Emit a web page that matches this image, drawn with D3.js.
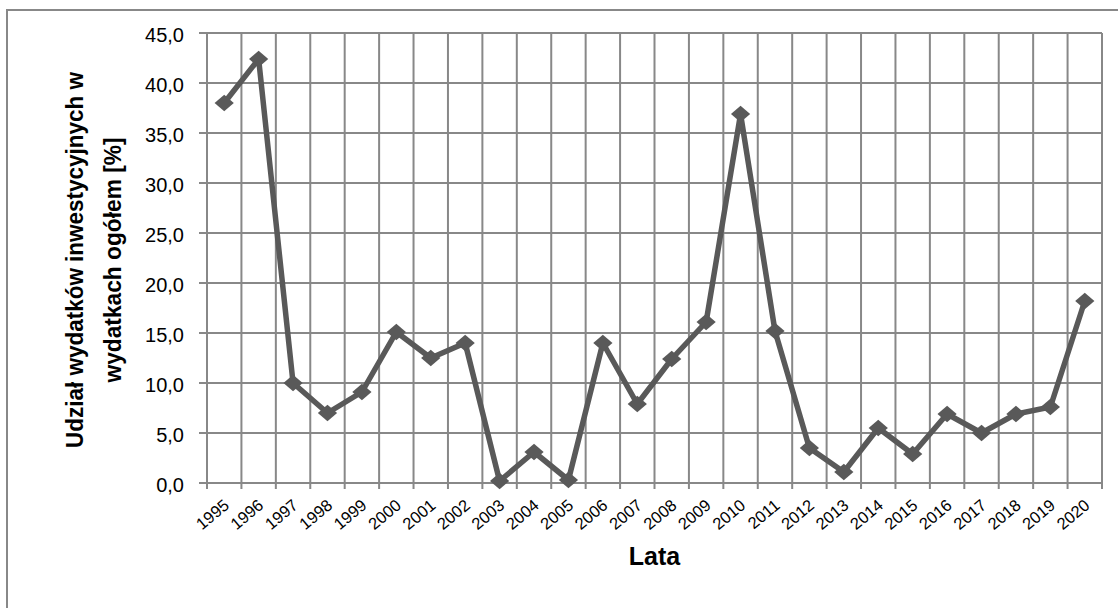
<!DOCTYPE html>
<html>
<head>
<meta charset="utf-8">
<script src="https://cdn.jsdelivr.net/npm/d3@7"></script>
<style>
  body { margin: 0; background: #fff; }
  svg { display: block; }
</style>
</head>
<body>
<div id="chart"></div>
<script>
// chart data
const years = ['1995', '1996', '1997', '1998', '1999', '2000', '2001', '2002', '2003', '2004',
  '2005', '2006', '2007', '2008', '2009', '2010', '2011', '2012', '2013', '2014',
  '2015', '2016', '2017', '2018', '2019', '2020'];
const shares = [38.0, 42.4, 10.0, 7.0, 9.1, 15.1, 12.5, 14.0, 0.2, 3.1,
  0.3, 14.0, 7.9, 12.4, 16.1, 36.9, 15.2, 3.5, 1.1, 5.5,
  2.9, 6.9, 5.0, 6.9, 7.6, 18.2];
const yTicks = [0, 5, 10, 15, 20, 25, 30, 35, 40, 45];
const yTitle = ['Udział wydatków inwestycyjnych w', 'wydatkach ogółem [%]'];
const xTitle = 'Lata';

const width = 1118;
const height = 608;
const plot = { left: 207, right: 1102, top: 33, bottom: 483 };

const gridColor = '#888888';
const lineColor = '#595959';
const font = 'Liberation Sans, Arial, sans-serif';

// polish number format: 45,0
const plFormat = d3.formatLocale({ decimal: ',', thousands: ' ', grouping: [3], currency: ['', ' zł'] }).format('.1f');

const svg = d3.select('#chart')
  .append('svg')
  .attr('width', width)
  .attr('height', height);

// outer frame (runs off the right and bottom edge)
svg.append('rect')
  .attr('x', 7)
  .attr('y', 10)
  .attr('width', width)
  .attr('height', height)
  .attr('fill', 'none')
  .attr('stroke', gridColor)
  .attr('stroke-width', 2);

const x = d3.scaleBand()
  .domain(years)
  .range([plot.left, plot.right]);

const y = d3.scaleLinear()
  .domain([0, 45])
  .range([plot.bottom, plot.top]);

const grid = svg.append('g').attr('id', 'grid');

// horizontal grid lines, with small ticks sticking out to the left
grid.selectAll('.hgrid')
  .data(yTicks)
  .enter()
  .append('line')
  .attr('class', 'hgrid')
  .attr('x1', plot.left - 8)
  .attr('x2', plot.right)
  .attr('y1', d => y(d))
  .attr('y2', d => y(d))
  .attr('stroke', gridColor)
  .attr('stroke-width', 2);

// vertical grid lines on the category boundaries
const bounds = years.map(d => x(d)).concat([plot.right]);
grid.selectAll('.vgrid')
  .data(bounds)
  .enter()
  .append('line')
  .attr('class', 'vgrid')
  .attr('x1', d => d)
  .attr('x2', d => d)
  .attr('y1', plot.top)
  .attr('y2', plot.bottom + 6)
  .attr('stroke', gridColor)
  .attr('stroke-width', 2);

// y tick labels
svg.append('g')
  .selectAll('text')
  .data(yTicks)
  .enter()
  .append('text')
  .attr('x', plot.left - 23)
  .attr('y', d => y(d))
  .attr('dy', '0.43em')
  .attr('text-anchor', 'end')
  .attr('fill', '#000')
  .style('font-family', font)
  .style('font-size', '20px')
  .text(d => plFormat(d));

// x tick labels, rotated
svg.append('g')
  .selectAll('text')
  .data(years)
  .enter()
  .append('text')
  .attr('transform', d => `translate(${x(d) + x.bandwidth() / 2 + 6},${plot.bottom + 24})rotate(-40)`)
  .attr('text-anchor', 'end')
  .attr('fill', '#000')
  .style('font-family', font)
  .style('font-size', '16.5px')
  .text(d => d);

// data line
const line = d3.line()
  .x((d, i) => x(years[i]) + x.bandwidth() / 2)
  .y(d => y(d));

svg.append('path')
  .datum(shares)
  .attr('d', line)
  .attr('fill', 'none')
  .attr('stroke', lineColor)
  .attr('stroke-width', 5.5)
  .attr('stroke-linejoin', 'round');

// diamond markers
const diamond = d3.symbol().type(d3.symbolSquare).size(140);
svg.append('g')
  .selectAll('path')
  .data(shares)
  .enter()
  .append('path')
  .attr('d', diamond)
  .attr('transform', (d, i) => `translate(${x(years[i]) + x.bandwidth() / 2},${y(d)})scale(1.15,1)rotate(45)`)
  .attr('fill', lineColor);

// axis titles
svg.append('text')
  .attr('transform', `translate(${(plot.left + plot.right) / 2},565)`)
  .attr('text-anchor', 'middle')
  .attr('fill', '#000')
  .style('font-family', font)
  .style('font-size', '25px')
  .style('font-weight', 'bold')
  .text(xTitle);

// two line y title, squeezed a bit like the original
const titleLengths = [376, 245];
const yLabel = svg.append('text')
  .attr('transform', `translate(0,${(plot.top + plot.bottom) / 2 + 2})rotate(-90)`)
  .attr('fill', '#000')
  .style('font-family', font)
  .style('font-size', '24px')
  .style('font-weight', 'bold');

yTitle.forEach((t, i) => {
  yLabel.append('tspan')
    .attr('x', -titleLengths[i] / 2)
    .attr('y', 83 + i * 38)
    .attr('textLength', titleLengths[i])
    .attr('lengthAdjust', 'spacingAndGlyphs')
    .text(t);
});
</script>
</body>
</html>
